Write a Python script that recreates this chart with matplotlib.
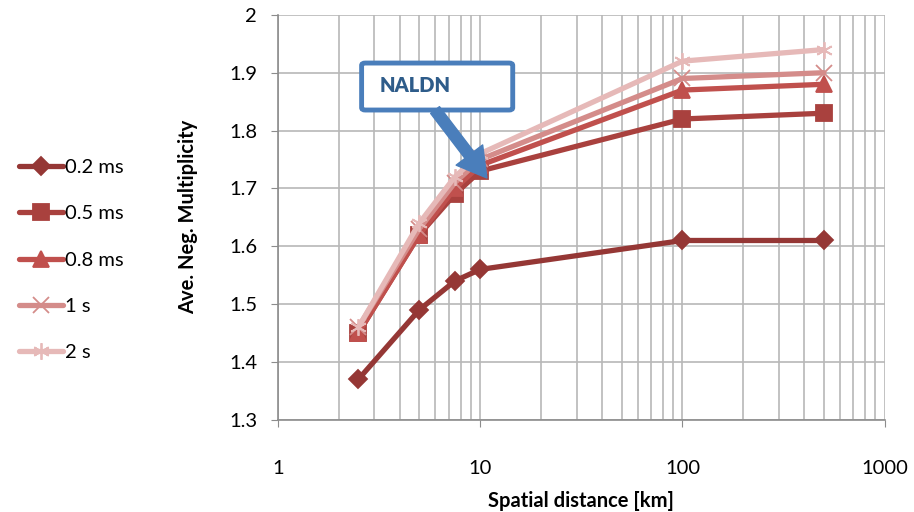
import numpy as np
import matplotlib
matplotlib.use('Agg')
import matplotlib.pyplot as plt
from matplotlib.patches import FancyBboxPatch, FancyArrowPatch
from matplotlib.ticker import FixedLocator, LogLocator, NullFormatter

plt.rcParams['font.family'] = ['Lato', 'DejaVu Sans']

distances = [2.5, 5, 7.5, 10, 100, 500]
labels = ['0.2 ms', '0.5 ms', '0.8 ms', '1 s', '2 s']
mult_02ms = [1.37, 1.49, 1.54, 1.56, 1.61, 1.61]
mult_05ms = [1.45, 1.62, 1.69, 1.73, 1.82, 1.83]
mult_08ms = [1.45, 1.62, 1.70, 1.74, 1.87, 1.88]
mult_1s = [1.46, 1.63, 1.71, 1.75, 1.89, 1.90]
mult_2s = [1.46, 1.64, 1.72, 1.76, 1.92, 1.94]
y_ticks = [1.3, 1.4, 1.5, 1.6, 1.7, 1.8, 1.9, 2.0]
x_ticks = [1, 10, 100, 1000]

series = [mult_02ms, mult_05ms, mult_08ms, mult_1s, mult_2s]
colors = ['#953735', '#A9413E', '#C0504D', '#D48C8A', '#E6B9B8']
markers = ['D', 's', '^', 'x', (6, 2, 0)]
msizes = [9, 12, 12, 12, 12]

fig = plt.figure(figsize=(9.14, 5.12), dpi=100)
ax = fig.add_axes([0.304, 0.180, 0.664, 0.791])

handles = []
for vals, lab, c, m, ms in zip(series, labels, colors, markers, msizes):
    h, = ax.plot(distances, vals, color=c, lw=3.8, marker=m, ms=ms,
                 mec=c, mew=1.3, label=lab, solid_capstyle='round')
    handles.append(h)

ax.set_xscale('log')
ax.set_xlim(1, 1000)
ax.set_ylim(1.3, 2.0)
ax.xaxis.set_major_locator(FixedLocator(x_ticks))
ax.set_xticklabels([str(t) for t in x_ticks])
ax.xaxis.set_minor_locator(LogLocator(base=10, subs=np.arange(2, 10)))
ax.xaxis.set_minor_formatter(NullFormatter())
ax.yaxis.set_major_locator(FixedLocator(y_ticks))
ax.set_yticklabels([f'{t:g}' for t in y_ticks])

ax.grid(which='major', color='#B8B8B8', lw=1.2)
ax.grid(which='minor', axis='x', color='#B8B8B8', lw=1.2)
ax.set_axisbelow(True)
for s in ['top', 'right']:
    ax.spines[s].set_visible(False)
for s in ['left', 'bottom']:
    ax.spines[s].set_color('#8C8C8C')
    ax.spines[s].set_linewidth(1.2)
ax.tick_params(which='major', direction='out', length=5, color='#8C8C8C',
               labelsize=14.5)
ax.tick_params(which='minor', length=0)
ax.tick_params(axis='y', which='major', pad=10)
ax.tick_params(axis='x', which='major', pad=24)

ax.set_xlabel('Spatial distance [km]', fontsize=14.5, fontweight='bold', labelpad=10)
ax.set_ylabel('Ave. Neg. Multiplicity', fontsize=14.5, fontweight='bold', labelpad=22)

fig.legend(handles=handles, loc='center left', bbox_to_anchor=(0.012, 0.492),
           frameon=False, fontsize=14.5, handlelength=2.2, handletextpad=0.1,
           labelspacing=1.45, borderaxespad=0)

# callout box with arrow
box = FancyBboxPatch((0.138, 0.765), 0.249, 0.116, transform=ax.transAxes,
                     boxstyle='round,pad=0,rounding_size=0.006',
                     fc='white', ec='#4A7EBB', lw=3.5, zorder=10)
ax.add_patch(box)
ax.text(0.168, 0.825, 'NALDN', transform=ax.transAxes, fontsize=14.5,
        fontweight='heavy', color='#2E5C8A', ha='left', va='center', zorder=11)
arrow = FancyArrowPatch(posA=ax.transAxes.transform((0.259, 0.765)),
                        posB=ax.transData.transform((10.8, 1.718)),
                        transform=None,
                        arrowstyle='simple,head_length=1.3,head_width=1.5,tail_width=0.5',
                        mutation_scale=16, fc='#4A7EBB', ec='#4A7EBB',
                        shrinkA=0, shrinkB=0, zorder=10)
fig.patches.append(arrow)

fig.savefig('out.png', dpi=100)
